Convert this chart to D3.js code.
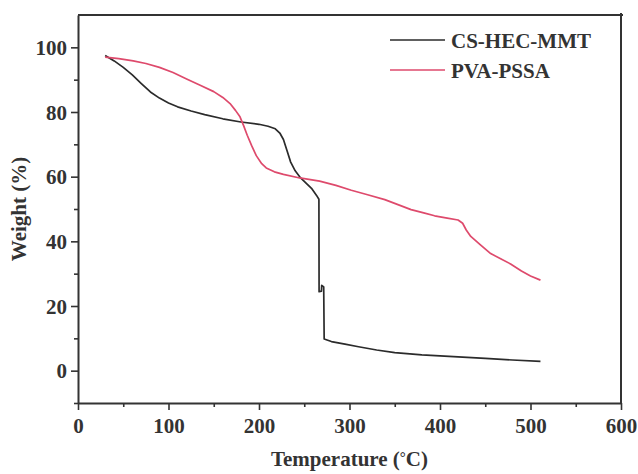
<!DOCTYPE html>
<html>
<head>
<meta charset="utf-8">
<script src="https://cdn.jsdelivr.net/npm/d3@7"></script>
<style>
  html, body { margin: 0; padding: 0; background: #fff; }
  svg text { font-family: "Liberation Serif", "Times New Roman", serif; font-weight: bold; fill: #333; }
</style>
</head>
<body>
<svg id="chart" width="638" height="474"></svg>
<script>
// TGA curves: temperature (°C) vs. residual weight (%)
const seriesNames = ["CS-HEC-MMT", "PVA-PSSA"];
const seriesColors = ["#2b2b2b", "#de4a6c"];

const csHecMmtTemp = [30, 40, 50, 60, 70, 80, 90, 100, 110, 125, 140, 160, 180, 200, 210, 218, 223, 227, 231, 235, 240, 246, 252, 258, 263.6, 266.2, 266.4, 269, 269.3, 271.5, 272, 280, 295, 310, 330, 350, 380, 410, 450, 480, 511];
const csHecMmtWeight = [97.5, 95.8, 93.8, 91.5, 88.8, 86.2, 84.3, 82.8, 81.6, 80.3, 79.2, 77.9, 76.9, 76.2, 75.6, 74.8, 73.5, 71.5, 68, 64.5, 61.8, 59.6, 58, 56.4, 54.2, 53.0, 24.4, 24.6, 26.4, 25.9, 9.8, 9.0, 8.2, 7.4, 6.4, 5.6, 4.9, 4.4, 3.8, 3.3, 2.9];

const pvaPssaTemp = [30, 45, 61, 75, 90, 105, 120, 135, 150, 160, 168, 174, 179, 183, 187, 192, 197, 203, 208, 217, 227, 245, 267, 285, 302, 320, 339, 355, 368, 382, 394, 408, 420, 425, 429, 434, 445, 456, 467, 478, 490, 500, 511];
const pvaPssaWeight = [97, 96.5, 95.8, 95, 93.8, 92.2, 90.2, 88.3, 86.3, 84.5, 82.6, 80.5, 78.5, 75.8, 72.8, 69.5, 66.5, 64, 62.7, 61.5, 60.7, 59.6, 58.6, 57.3, 55.8, 54.4, 52.9, 51.2, 49.8, 48.8, 47.9, 47.2, 46.6, 45.6, 43.5, 41.5, 38.8, 36.2, 34.6, 33, 30.8, 29.3, 28];

const xMajorTicks = [0, 100, 200, 300, 400, 500, 600];
const xMinorTicks = [50, 150, 250, 350, 450, 550];
const yMajorTicks = [0, 20, 40, 60, 80, 100];
const yMinorTicks = [-10, 10, 30, 50, 70, 90];

const xLabel = "Temperature (";
const yLabel = "Weight (%)";

const svg = d3.select("#chart");
const plotLeft = 78, plotRight = 621, plotTop = 15, plotBottom = 403;

const x = d3.scaleLinear().domain([0, 600]).range([plotLeft, plotRight]);
const y = d3.scaleLinear().domain([-10, 110]).range([plotBottom, plotTop]);

const frameColor = "#333";
const serif = '"Liberation Serif", "Times New Roman", serif';

// curves
const series = [
  d3.zip(csHecMmtTemp, csHecMmtWeight),
  d3.zip(pvaPssaTemp, pvaPssaWeight)
];
const line = d3.line().x(d => x(d[0])).y(d => y(d[1])).curve(d3.curveLinear);
svg.append("g").selectAll("path").data(series).join("path")
  .attr("d", line)
  .attr("fill", "none")
  .attr("stroke", (d, i) => seriesColors[i])
  .attr("stroke-width", 1.7)
  .attr("stroke-linejoin", "round");

// axes
function styleAxis(g) {
  g.attr("font-family", serif).attr("font-weight", "bold");
  g.selectAll(".domain").attr("stroke", frameColor).attr("stroke-width", 2);
  g.selectAll(".tick line").attr("stroke", frameColor).attr("stroke-width", 1.6);
  g.selectAll(".tick text").style("font-family", serif).style("font-weight", "bold")
    .attr("font-size", 21).attr("fill", "#333");
}
svg.append("g").attr("transform", `translate(0,${plotBottom})`)
  .call(d3.axisBottom(x).tickValues(xMajorTicks).tickSize(7).tickSizeOuter(0).tickPadding(8))
  .call(styleAxis);

svg.append("g").attr("transform", `translate(0,${plotBottom})`)
  .call(d3.axisBottom(x).tickValues(xMinorTicks).tickSize(4).tickSizeOuter(0).tickFormat(""))
  .call(styleAxis).select(".domain").remove();

const gy = svg.append("g").attr("transform", `translate(${plotLeft},0)`)
  .call(d3.axisLeft(y).tickValues(yMajorTicks).tickSize(7).tickSizeOuter(0).tickPadding(4))
  .call(styleAxis);
gy.selectAll(".tick text").attr("dy", "0.34em");

svg.append("g").attr("transform", `translate(${plotLeft},0)`)
  .call(d3.axisLeft(y).tickValues(yMinorTicks).tickSize(4).tickSizeOuter(0).tickFormat(""))
  .call(styleAxis).select(".domain").remove();

// top and right frame lines
svg.append("line").attr("x1", plotLeft).attr("x2", plotRight + 2).attr("y1", plotTop).attr("y2", plotTop)
  .attr("stroke", frameColor).attr("stroke-width", 2);
svg.append("line").attr("x1", plotRight).attr("x2", plotRight).attr("y1", plotTop - 2).attr("y2", plotBottom)
  .attr("stroke", frameColor).attr("stroke-width", 2);

// axis titles
const xt = svg.append("text").attr("x", (plotLeft + plotRight) / 2).attr("y", 466)
  .attr("text-anchor", "middle").attr("font-size", 21);
xt.append("tspan").text(xLabel);
xt.append("tspan").attr("font-size", 15).attr("dy", -4).text("°");
xt.append("tspan").attr("dy", 4).text("C)");

svg.append("text")
  .attr("transform", `translate(26,${(plotTop + plotBottom) / 2}) rotate(-90)`)
  .attr("text-anchor", "middle").attr("font-size", 21)
  .text(yLabel);

// legend
const legend = svg.append("g");
seriesNames.forEach((name, i) => {
  const ly = 40 + i * 30;
  legend.append("line").attr("x1", 390).attr("x2", 445).attr("y1", ly).attr("y2", ly)
    .attr("stroke", seriesColors[i]).attr("stroke-width", 1.7);
  legend.append("text").attr("x", 451).attr("y", ly + 8).attr("font-size", 21).text(name);
});
</script>
</body>
</html>
